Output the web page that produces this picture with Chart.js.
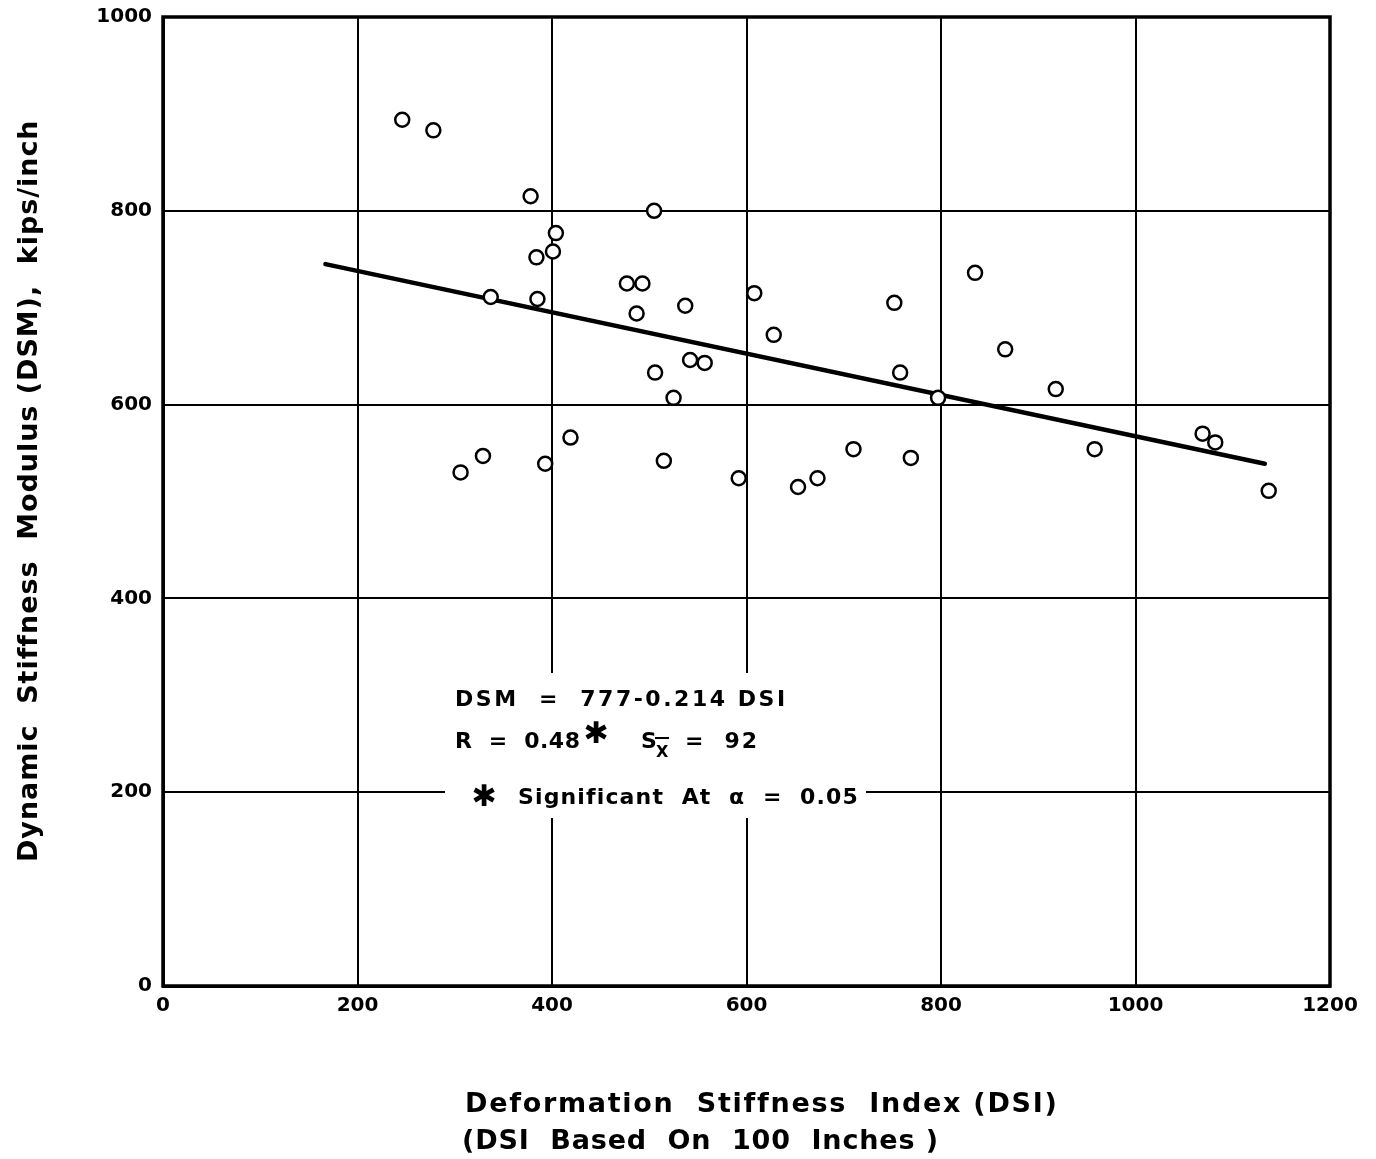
<!DOCTYPE html>
<html>
<head>
<meta charset="utf-8">
<script src="https://cdn.jsdelivr.net/npm/chart.js@4.4.1/dist/chart.umd.min.js"></script>
<style>
html,body{margin:0;padding:0;background:#fff;}
#wrap{width:1376px;height:1159px;}
</style>
</head>
<body>
<div id="wrap"><canvas id="c" width="1376" height="1159"></canvas></div>
<script>
// ---- data ----
const dsi = [246, 278, 378, 505, 404, 401, 384, 337, 385, 477, 493, 487, 537, 608, 628, 752, 835, 866, 542, 557,
             506, 758, 525, 797, 918, 306, 329, 393, 419, 515, 592, 653, 673, 710, 769, 958, 1069, 1082, 1137];
const dsm = [894, 883, 815, 800, 777, 758, 752, 711, 709, 725, 725, 694, 702, 715, 672, 705, 736, 657, 646, 643,
             633, 633, 607, 607, 616, 530, 547, 539, 566, 542, 524, 515, 524, 554, 545, 554, 570, 561, 511];
const fitDsi = [167, 1133];
const fitDsm = [745, 539];
const xTickValues = [0, 200, 400, 600, 800, 1000, 1200];
const yTickValues = [0, 200, 400, 600, 800, 1000];
const xTitleLines = ['Deformation  Stiffness  Index (DSI)', '(DSI  Based  On  100  Inches )'];
const yTitle = 'Dynamic  Stiffness  Modulus (DSM),  kips/inch';
const eqLine = 'DSM  =  777-0.214 DSI';
const rLine = 'R  =  0.48';
const sLine = '=  92';
const sigLine = 'Significant  At  \u03B1  =  0.05';

const TFONT = '"DejaVu Sans"';

function drawSpaced(c, text, left, y, width) {
  c.textAlign = 'left';
  const n = Array.from(text).length;
  if ('letterSpacing' in c) {
    c.letterSpacing = '0px';
    const w = c.measureText(text).width;
    const ls = n > 1 ? (width - w) / (n - 1) : 0;
    c.letterSpacing = ls.toFixed(2) + 'px';
    c.fillText(text, left, y);
    c.letterSpacing = '0px';
  } else {
    c.fillText(text, left, y, width);
  }
}

const annot = {
  id: 'annot',
  beforeDatasetsDraw(chart) {
    const c = chart.ctx, a = chart.chartArea;
    c.save();
    // frame
    c.strokeStyle = '#000';
    c.lineWidth = 3.5;
    c.strokeRect(a.left, a.top, a.right - a.left, a.bottom - a.top);
    // white box behind the annotation
    c.fillStyle = '#fff';
    c.fillRect(445, 673, 421, 145);
    c.fillStyle = '#000';
    c.textBaseline = 'alphabetic';
    c.font = 'bold 22px ' + TFONT;
    drawSpaced(c, eqLine, 455, 706, 330);
    drawSpaced(c, rLine, 455, 748, 125);
    c.font = 'bold 30px ' + TFONT;
    c.textAlign = 'center';
    c.fillText('\u2731', 596, 743);
    c.font = 'bold 22px ' + TFONT;
    c.textAlign = 'left';
    c.fillText('S', 641, 748);
    c.font = 'bold 16px ' + TFONT;
    c.fillText('X', 656, 757);
    c.lineWidth = 2;
    c.beginPath(); c.moveTo(655, 738); c.lineTo(669, 738); c.stroke();
    c.font = 'bold 22px ' + TFONT;
    drawSpaced(c, sLine, 685, 748, 72);
    c.font = 'bold 30px ' + TFONT;
    c.textAlign = 'center';
    c.fillText('\u2731', 484, 806);
    c.font = 'bold 22px ' + TFONT;
    drawSpaced(c, sigLine, 518, 804, 339);
    c.restore();
  },
  afterDraw(chart) {
    const c = chart.ctx;
    c.save();
    c.fillStyle = '#000';
    c.textBaseline = 'alphabetic';
    c.font = 'bold 27px ' + TFONT;
    drawSpaced(c, xTitleLines[0], 465, 1112, 590);
    drawSpaced(c, xTitleLines[1], 462, 1149, 476);
    c.translate(37, 862);
    c.rotate(-Math.PI / 2);
    drawSpaced(c, yTitle, 0, 0, 740);
    c.restore();
  }
};

const tickFont = { family: 'DejaVu Sans', size: 20, weight: 'bold' };
const plain = v => String(v);

new Chart(document.getElementById('c').getContext('2d'), {
  type: 'scatter',
  data: {
    datasets: [
      {
        label: 'DSM vs DSI',
        data: dsi.map((x, i) => ({ x: x, y: dsm[i] })),
        pointRadius: 7,
        pointHoverRadius: 7,
        pointBackgroundColor: '#fff',
        pointBorderColor: '#000',
        pointBorderWidth: 2.5,
        order: 0
      },
      {
        type: 'line',
        label: 'DSM = 777 - 0.214 DSI',
        data: fitDsi.map((x, i) => ({ x: x, y: fitDsm[i] })),
        borderColor: '#000',
        borderWidth: 4.5,
        borderCapStyle: 'round',
        pointRadius: 0,
        fill: false,
        order: 1
      }
    ]
  },
  options: {
    responsive: false,
    animation: false,
    devicePixelRatio: 1,
    layout: { padding: { left: 0, top: 17, right: 46, bottom: 0 } },
    plugins: { legend: { display: false }, tooltip: { enabled: false } },
    scales: {
      x: {
        type: 'linear',
        min: 0, max: 1200,
        afterBuildTicks: s => { s.ticks = xTickValues.map(v => ({ value: v })); },
        afterFit: s => { s.height = 173; s.paddingLeft = 0; s.paddingRight = 0; },
        ticks: { autoSkip: false, maxRotation: 0, color: '#000', font: tickFont, padding: 8, callback: plain },
        grid: { color: '#000', lineWidth: 2, drawTicks: false },
        border: { color: '#000', width: 3 }
      },
      y: {
        type: 'linear',
        min: 0, max: 1000,
        afterBuildTicks: s => { s.ticks = yTickValues.map(v => ({ value: v })); },
        afterFit: s => { s.width = 163; s.paddingTop = 0; s.paddingBottom = 0; },
        ticks: { autoSkip: false, color: '#000', font: tickFont, padding: 11, callback: plain },
        grid: { color: '#000', lineWidth: 2, drawTicks: false },
        border: { color: '#000', width: 3 }
      }
    }
  },
  plugins: [annot]
});
</script>
</body>
</html>
